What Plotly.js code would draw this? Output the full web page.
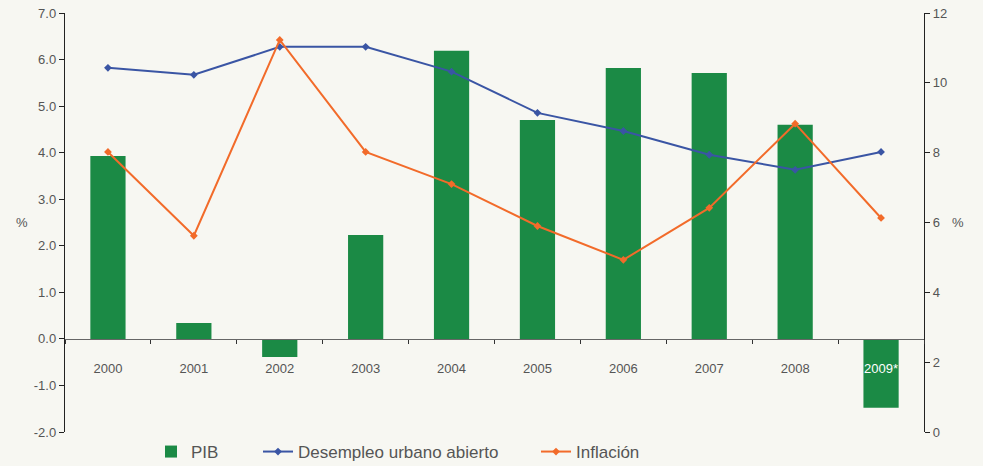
<!DOCTYPE html>
<html>
<head>
<meta charset="utf-8">
<script src="https://cdn.plot.ly/plotly-3.0.1.min.js"></script>
<style>html,body{margin:0;padding:0;background:#f7f7f2;}</style>
</head>
<body>
<div id="chart" style="width:983px;height:466px;"></div>
<script>
const years = ["2000","2001","2002","2003","2004","2005","2006","2007","2008","2009*"];
const yearLabels = ["2000","2001","2002","2003","2004","2005","2006","2007","2008","<span style='color:#ffffff'>2009*</span>"];
const pib = [3.93, 0.34, -0.39, 2.23, 6.19, 4.70, 5.82, 5.71, 4.60, -1.48];
const desempleo = [10.43, 10.23, 11.03, 11.03, 10.32, 9.14, 8.62, 7.94, 7.51, 8.02];
const inflacion = [8.02, 5.62, 11.23, 8.02, 7.10, 5.90, 4.93, 6.42, 8.83, 6.13];
const leftTicks = [-2, -1, 0, 1, 2, 3, 4, 5, 6, 7];
const leftTickText = ["-2.0","-1.0","0.0","1.0","2.0","3.0","4.0","5.0","6.0","7.0"];

const green = '#1b8a45', blue = '#3a55a4', orange = '#f26b2a', txt = '#555555';

const traces = [
  {type:'bar', x: years, y: pib, name:'PIB', marker:{color: green}, width:0.41, yaxis:'y', legend:'legend'},
  {type:'scatter', mode:'lines+markers', x: years, y: desempleo, name:'Desempleo urbano abierto', yaxis:'y2', legend:'legend2',
   line:{color: blue, width:2}, marker:{symbol:'diamond', size:6, color: blue}},
  {type:'scatter', mode:'lines+markers', x: years, y: inflacion, name:'Inflación', yaxis:'y2', legend:'legend3',
   line:{color: orange, width:2}, marker:{symbol:'diamond', size:6, color: orange}}
];

const legBase = {orientation:'h', yref:'container', xref:'container', y:(466-452)/466, yanchor:'middle', xanchor:'left',
  font:{size:17, color: txt}, bgcolor:'rgba(0,0,0,0)', borderwidth:0};

const layout = {
  width:983, height:466,
  margin:{l:65, r:59, t:13, b:34, autoexpand:false},
  paper_bgcolor:'#f7f7f2', plot_bgcolor:'#f7f7f2',
  font:{family:'Liberation Sans, Arial, sans-serif', color: txt, size:13},
  showlegend:true,
  xaxis:{
    type:'category', categoryorder:'array', categoryarray: years,
    tickmode:'array', tickvals: years, ticktext: yearLabels,
    anchor:'free', position: 2/9,
    showline:true, linecolor:'#666666', linewidth:1.5,
    ticks:'outside', tickson:'boundaries', ticklen:4, tickcolor:'#333333',
    ticklabelstandoff:17,
    showgrid:false, zeroline:false,
    tickfont:{size:13, color: txt},
    range:[-0.5, 9.5], fixedrange:true
  },
  yaxis:{
    range:[-2,7], tickmode:'array', tickvals: leftTicks, ticktext: leftTickText,
    showline:true, linecolor:'#222222', linewidth:1.2,
    ticks:'outside', ticklen:5, tickcolor:'#222222',
    showgrid:false, zeroline:false,
    tickfont:{size:13, color: txt}
  },
  yaxis2:{
    overlaying:'y', side:'right', range:[0,12], dtick:2,
    showline:true, linecolor:'#222222', linewidth:1.2,
    ticks:'outside', ticklen:5, tickcolor:'#222222',
    showgrid:false, zeroline:false,
    tickfont:{size:13, color: txt}
  },
  legend: Object.assign({}, legBase, {x:151/983}),
  legend2: Object.assign({}, legBase, {x:258/983}),
  legend3: Object.assign({}, legBase, {x:536/983}),
  annotations:[
    {xref:'paper', yref:'paper', x:(14-65)/859, y:0.5, text:'%', showarrow:false, font:{size:13, color: txt}},
    {xref:'paper', yref:'paper', x:(966-65)/859, y:0.5, text:'%', showarrow:false, font:{size:13, color: txt}}
  ]
};

Plotly.newPlot('chart', traces, layout, {displayModeBar:false, staticPlot:true});
</script>
</body>
</html>
